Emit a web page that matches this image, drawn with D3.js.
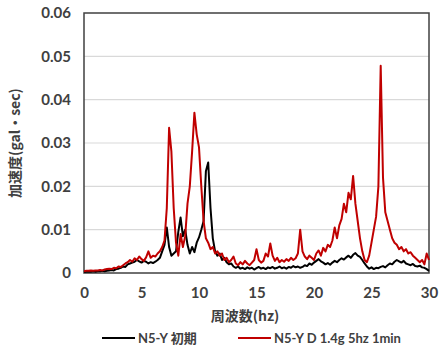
<!DOCTYPE html>
<html>
<head>
<meta charset="utf-8">
<script src="https://cdnjs.cloudflare.com/ajax/libs/d3/7.8.5/d3.min.js"></script>
<style>
    body { margin: 0; background: #fff; }
    #chart svg { display: block; }
</style>
</head>
<body>
<div id="chart"></div>
<script>
// chart data (0.2 hz steps)
var freqs = [
    0.0, 0.2, 0.4, 0.6, 0.8, 1.0, 1.2, 1.4, 1.6, 1.8, 2.0,
    2.2, 2.4, 2.6, 2.8, 3.0, 3.2, 3.4, 3.6, 3.8, 4.0,
    4.2, 4.4, 4.6, 4.8, 5.0, 5.2, 5.4, 5.6, 5.8, 6.0,
    6.2, 6.4, 6.6, 6.8, 7.0,
    7.2, 7.4, 7.6, 7.8, 8.0, 8.2, 8.4, 8.6, 8.8, 9.0,
    9.2, 9.4, 9.6, 9.8, 10.0, 10.2, 10.4, 10.6, 10.8, 11.0,
    11.2, 11.4, 11.6, 11.8, 12.0, 12.2, 12.4, 12.6, 12.8, 13.0,
    13.2, 13.4, 13.6, 13.8, 14.0, 14.2, 14.4, 14.6, 14.8, 15.0,
    15.2, 15.4, 15.6, 15.8, 16.0, 16.2, 16.4, 16.6, 16.8, 17.0,
    17.2, 17.4, 17.6, 17.8, 18.0, 18.2, 18.4, 18.6, 18.8, 19.0,
    19.2, 19.4, 19.6, 19.8, 20.0, 20.2, 20.4, 20.6, 20.8, 21.0,
    21.2, 21.4, 21.6, 21.8, 22.0, 22.2, 22.4, 22.6, 22.8, 23.0,
    23.2, 23.4, 23.6, 23.8, 24.0, 24.2, 24.4,
    24.6, 24.8, 25.0, 25.2, 25.4, 25.6, 25.8, 26.0, 26.2, 26.4,
    26.6, 26.8, 27.0, 27.2, 27.4, 27.6, 27.8, 28.0, 28.2, 28.4,
    28.6, 28.8, 29.0, 29.2, 29.4, 29.6, 29.8, 30.0
];

var initialValues = [
    0.0002, 0.0003, 0.0003, 0.0003, 0.0004, 0.0003, 0.0004, 0.0004, 0.0005, 0.0004, 0.0005,
    0.0006, 0.0007, 0.0006, 0.0009, 0.0010, 0.0012, 0.0015, 0.0014, 0.0020, 0.0022,
    0.0024, 0.0026, 0.0030, 0.0027, 0.0024, 0.0028, 0.0026, 0.0022, 0.0025, 0.0023,
    0.0026, 0.0030, 0.0035, 0.0050, 0.0065,
    0.0105, 0.0060, 0.0040, 0.0045, 0.0050, 0.0095, 0.0128, 0.0085, 0.0100, 0.0065,
    0.0045, 0.0060, 0.0048, 0.0070, 0.0082, 0.0100, 0.0120, 0.0235, 0.0255, 0.0150,
    0.0080, 0.0050, 0.0040, 0.0045, 0.0030, 0.0035, 0.0025, 0.0020, 0.0022, 0.0015,
    0.0012, 0.0015, 0.0010, 0.0012, 0.0009, 0.0013, 0.0010, 0.0012, 0.0008, 0.0011,
    0.0014, 0.0010, 0.0012, 0.0009, 0.0013, 0.0011, 0.0014, 0.0010, 0.0012, 0.0015,
    0.0011, 0.0013, 0.0010, 0.0014, 0.0012, 0.0016, 0.0013, 0.0015, 0.0012, 0.0014,
    0.0018, 0.0016, 0.0022, 0.0019, 0.0024, 0.0028, 0.0032, 0.0027, 0.0024, 0.0020,
    0.0023, 0.0019, 0.0024, 0.0028, 0.0025, 0.0030, 0.0034, 0.0031, 0.0036, 0.0040,
    0.0035, 0.0042, 0.0046, 0.0040, 0.0037, 0.0030, 0.0022,
    0.0015, 0.0010, 0.0013, 0.0009, 0.0012, 0.0011, 0.0014, 0.0016, 0.0013, 0.0018,
    0.0022, 0.0020, 0.0026, 0.0030, 0.0027, 0.0024, 0.0028, 0.0022, 0.0020, 0.0018,
    0.0021, 0.0016, 0.0015, 0.0017, 0.0013, 0.0012, 0.0009, 0.0005
];

var shakenValues = [
    0.0004, 0.0005, 0.0005, 0.0006, 0.0005, 0.0006, 0.0006, 0.0007, 0.0006, 0.0008, 0.0009,
    0.0010, 0.0009, 0.0012, 0.0011, 0.0015, 0.0014, 0.0018, 0.0022, 0.0025, 0.0030,
    0.0026, 0.0034, 0.0030, 0.0038, 0.0032, 0.0028, 0.0036, 0.0050, 0.0035, 0.0040,
    0.0038, 0.0045, 0.0050, 0.0060, 0.0075,
    0.0150, 0.0335, 0.0280, 0.0150, 0.0070, 0.0040, 0.0090, 0.0060, 0.0085, 0.0160,
    0.0200, 0.0280, 0.0370, 0.0320, 0.0290, 0.0200, 0.0120, 0.0080, 0.0070, 0.0055,
    0.0060, 0.0045, 0.0050, 0.0040, 0.0045, 0.0030, 0.0035, 0.0025, 0.0030, 0.0038,
    0.0022, 0.0018, 0.0025, 0.0020, 0.0028, 0.0022, 0.0018, 0.0024, 0.0030, 0.0055,
    0.0030, 0.0024, 0.0028, 0.0045, 0.0038, 0.0068, 0.0040, 0.0028, 0.0035, 0.0025,
    0.0030, 0.0026, 0.0032, 0.0028, 0.0035, 0.0030, 0.0034, 0.0045, 0.0100, 0.0050,
    0.0038, 0.0032, 0.0040, 0.0035, 0.0030, 0.0045, 0.0052, 0.0040, 0.0058, 0.0050,
    0.0065, 0.0060, 0.0075, 0.0105, 0.0080, 0.0110, 0.0125, 0.0160, 0.0140, 0.0185,
    0.0170, 0.0224, 0.0160, 0.0120, 0.0080, 0.0050, 0.0030,
    0.0025, 0.0040, 0.0070, 0.0100, 0.0130, 0.0200, 0.0478, 0.0220, 0.0140, 0.0120,
    0.0100, 0.0080, 0.0070, 0.0065, 0.0055, 0.0060, 0.0050, 0.0055, 0.0045, 0.0048,
    0.0040, 0.0035, 0.0030, 0.0025, 0.0030, 0.0020, 0.0045, 0.0030
];

var xTicks = [0, 5, 10, 15, 20, 25, 30];
var yTicks = [0, 0.01, 0.02, 0.03, 0.04, 0.05, 0.06];
var seriesNames = ["N5-Y 初期", "N5-Y D 1.4g 5hz 1min"];

var app = app || {};

/**
 * Spectrum chart module
 */
app.SpectrumModule = (function () {
    'use strict';

    var init = function (baseElement) {
        var config = configure(d3.select(baseElement));
        structure(config);
        axes(config);
        lines(config);
        legend(config);
        return config;
    };

    var configure = function (base) {
        var m = { left: 84, top: 13, right: 429, bottom: 273 };

        return {
            base: base,
            m: m,
            colors: ["#000000", "#c00000"],
            x: d3.scaleLinear().domain([0, 30]).range([m.left, m.right]),
            y: d3.scaleLinear().domain([0, 0.06]).range([m.bottom, m.top]),
            series: [initialValues, shakenValues]
        };
    };

    var structure = function (config) {
        config.svg = config.base.append("svg")
            .attr("width", 440)
            .attr("height", 350);
    };

    var axes = function (config) {
        var svg = config.svg, m = config.m;

        // horizontal grid
        svg.append("g").selectAll("line")
            .data(yTicks.slice(1, -1))
            .enter().append("line")
            .attr("x1", m.left).attr("x2", m.right)
            .attr("y1", function (d) { return config.y(d); })
            .attr("y2", function (d) { return config.y(d); })
            .attr("stroke", "#d9d9d9")
            .attr("stroke-width", 1.2);

        var yAxis = svg.append("g")
            .attr("transform", "translate(" + m.left + ",0)")
            .call(d3.axisLeft(config.y).tickValues(yTicks).tickSize(0).tickPadding(13)
                .tickFormat(function (d) { return d === 0 ? "0" : d3.format(".2f")(d); }));

        var xAxis = svg.append("g")
            .attr("transform", "translate(0," + m.bottom + ")")
            .call(d3.axisBottom(config.x).tickValues(xTicks).tickSize(0).tickPadding(14));

        [xAxis, yAxis].forEach(function (a) {
            a.select(".domain").remove();
            a.selectAll("text")
                .attr("fill", "#404040")
                .style("font-family", "Lato, 'Liberation Sans', sans-serif")
                .style("font-weight", "bold")
                .style("font-size", "15px");
        });

        // plot frame
        svg.append("rect")
            .attr("x", m.left).attr("y", m.top)
            .attr("width", m.right - m.left)
            .attr("height", m.bottom - m.top)
            .attr("fill", "none")
            .attr("stroke", "#404040")
            .attr("stroke-width", 1.5);

        svg.append("text")
            .attr("transform", "translate(20," + ((m.top + m.bottom) / 2) + ") rotate(-90)")
            .attr("text-anchor", "middle")
            .attr("fill", "#404040")
            .style("font-family", "'Noto Sans CJK JP', sans-serif")
            .style("font-weight", "bold")
            .style("font-size", "14px")
            .text("加速度(gal・sec)");

        svg.append("text")
            .attr("x", 245).attr("y", 321)
            .attr("text-anchor", "middle")
            .attr("fill", "#404040")
            .style("font-family", "'Noto Sans CJK JP', sans-serif")
            .style("font-weight", "bold")
            .style("font-size", "14px")
            .text("周波数(hz)");
    };

    var lines = function (config) {
        var line = d3.line()
            .x(function (d, i) { return config.x(freqs[i]); })
            .y(function (d) { return config.y(d); });

        config.svg.append("g").selectAll("path")
            .data(config.series)
            .enter().append("path")
            .attr("d", line)
            .attr("fill", "none")
            .attr("stroke", function (d, i) { return config.colors[i]; })
            .attr("stroke-width", 2)
            .attr("stroke-linejoin", "round");
    };

    var legend = function (config) {
        var starts = [102, 238];
        var items = config.svg.append("g").selectAll("g")
            .data(seriesNames)
            .enter().append("g")
            .attr("transform", function (d, i) { return "translate(" + starts[i] + ",338)"; });

        items.append("line")
            .attr("x1", 0).attr("x2", 33)
            .attr("stroke", function (d, i) { return config.colors[i]; })
            .attr("stroke-width", 2);

        items.append("text")
            .attr("x", 36).attr("y", 5)
            .attr("fill", "#404040")
            .style("font-family", "Lato, 'Noto Sans CJK JP', sans-serif")
            .style("font-weight", "bold")
            .style("font-size", "13px")
            .text(function (d) { return d; });
    };

    return {
        init: init
    };

}());

app.SpectrumModule.init("#chart");
</script>
</body>
</html>
